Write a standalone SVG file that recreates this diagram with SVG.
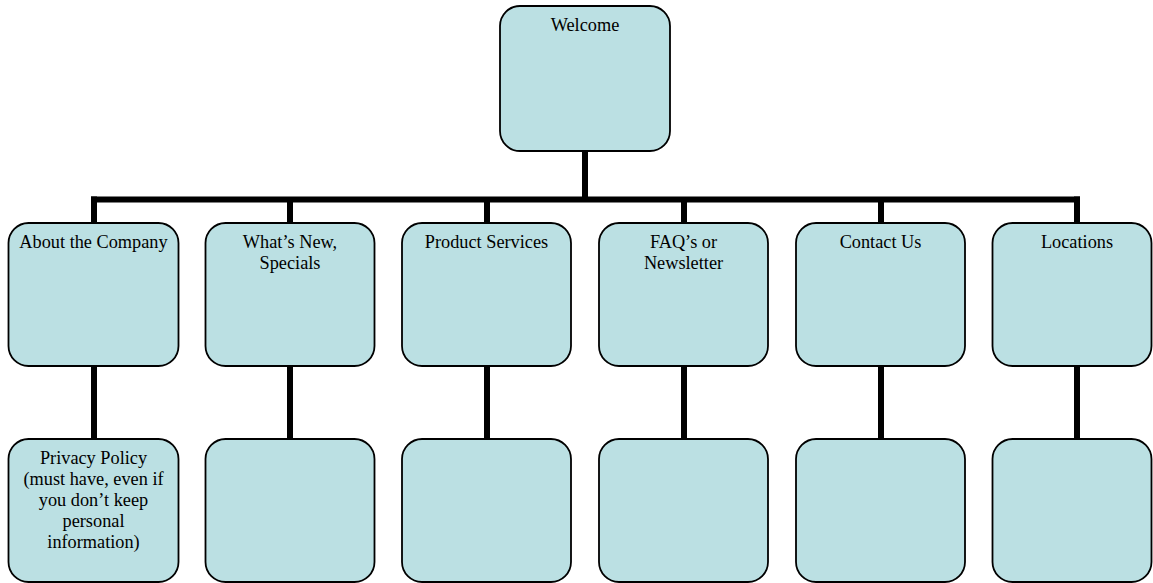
<svg xmlns="http://www.w3.org/2000/svg" width="1153" height="583" viewBox="0 0 1153 583">
<style>
.box{fill:#bbe0e3;stroke:#000;stroke-width:1.8}
.lbl{font-family:"Liberation Serif","Times New Roman",serif;font-size:18.3px;fill:#000;text-anchor:middle}
.conn{stroke:#000;stroke-width:6;fill:none;stroke-linecap:butt}
</style>
<rect width="1153" height="583" fill="#fff"/>
<g id="connectors">
<line class="conn" x1="585" y1="151" x2="585" y2="199.5"/>
<line class="conn" x1="91" y1="199.5" x2="1080" y2="199.5"/>
<line class="conn" x1="94" y1="196.5" x2="94" y2="223"/>
<line class="conn" x1="290" y1="199.5" x2="290" y2="223"/>
<line class="conn" x1="487" y1="199.5" x2="487" y2="223"/>
<line class="conn" x1="684" y1="199.5" x2="684" y2="223"/>
<line class="conn" x1="881" y1="199.5" x2="881" y2="223"/>
<line class="conn" x1="1077" y1="196.5" x2="1077" y2="223"/>
<line class="conn" x1="94" y1="366" x2="94" y2="439"/>
<line class="conn" x1="290" y1="366" x2="290" y2="439"/>
<line class="conn" x1="487" y1="366" x2="487" y2="439"/>
<line class="conn" x1="684" y1="366" x2="684" y2="439"/>
<line class="conn" x1="881" y1="366" x2="881" y2="439"/>
<line class="conn" x1="1077" y1="366" x2="1077" y2="439"/>
</g>
<g id="welcome"><rect class="box" x="500" y="6" width="170" height="145" rx="20"/><text class="lbl" x="585" y="31">Welcome</text></g>
<g id="about"><rect class="box" x="8.5" y="223" width="170" height="143" rx="20"/><text class="lbl" x="93.5" y="248">About the Company</text></g>
<g id="whatsnew"><rect class="box" x="205.5" y="223" width="169" height="143" rx="20"/><text class="lbl" x="290" y="248">What’s New,</text><text class="lbl" x="290" y="269">Specials</text></g>
<g id="product"><rect class="box" x="402" y="223" width="169" height="143" rx="20"/><text class="lbl" x="486.5" y="248">Product Services</text></g>
<g id="faq"><rect class="box" x="599" y="223" width="169" height="143" rx="20"/><text class="lbl" x="683.5" y="248">FAQ’s or</text><text class="lbl" x="683.5" y="269">Newsletter</text></g>
<g id="contact"><rect class="box" x="796" y="223" width="169" height="143" rx="20"/><text class="lbl" x="880.5" y="248">Contact Us</text></g>
<g id="locations"><rect class="box" x="992.5" y="223" width="159" height="143" rx="20"/><text class="lbl" x="1077" y="248">Locations</text></g>
<g id="privacy"><rect class="box" x="8.5" y="439" width="170" height="143" rx="20"/>
<text class="lbl" x="93.5" y="464">Privacy Policy</text>
<text class="lbl" x="93.5" y="485">(must have, even if</text>
<text class="lbl" x="93.5" y="506">you don’t keep</text>
<text class="lbl" x="93.5" y="527">personal</text>
<text class="lbl" x="93.5" y="548">information)</text></g>
<g id="child2"><rect class="box" x="205.5" y="439" width="169" height="143" rx="20"/></g>
<g id="child3"><rect class="box" x="402" y="439" width="169" height="143" rx="20"/></g>
<g id="child4"><rect class="box" x="599" y="439" width="169" height="143" rx="20"/></g>
<g id="child5"><rect class="box" x="796" y="439" width="169" height="143" rx="20"/></g>
<g id="child6"><rect class="box" x="992.5" y="439" width="159" height="143" rx="20"/></g>
</svg>
